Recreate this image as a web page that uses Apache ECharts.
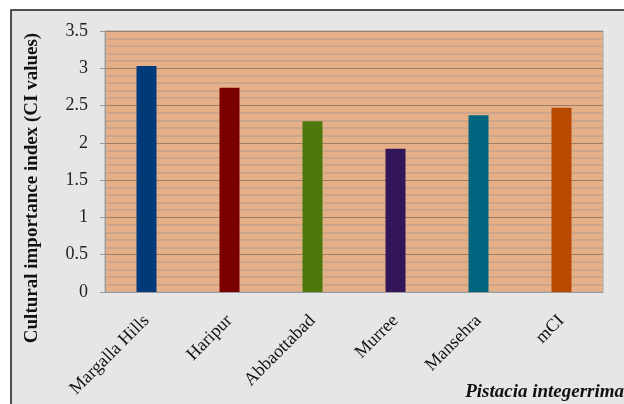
<!DOCTYPE html>
<html>
<head>
<meta charset="utf-8">
<script src="https://cdn.jsdelivr.net/npm/echarts@6/dist/echarts.min.js"></script>
<style>
  html, body { margin: 0; padding: 0; background: #ffffff; }
  #chart { width: 624px; height: 404px; }
</style>
</head>
<body>
<div id="chart"></div>
<script>
// Cultural importance index of Pistacia integerrima by locality
const categories = ['Margalla Hills', 'Haripur', 'Abbaottabad', 'Murree', 'Mansehra', 'mCI'];
const ciValues = [3.03, 2.74, 2.29, 1.92, 2.37, 2.47];
const barColors = ['#003a78', '#7a0000', '#4d780a', '#33165a', '#006680', '#b84a00'];
const yTicks = { min: 0, max: 3.5, step: 0.5 };

const serif = '"Liberation Serif", "DejaVu Serif", serif';
const chart = echarts.init(document.getElementById('chart'));

chart.setOption({
  backgroundColor: '#ffffff',
  animation: false,
  graphic: [
    {
      type: 'rect', z: -10,
      shape: { x: 11, y: 10, width: 700, height: 500 },
      style: { fill: '#e6e6e6', stroke: '#1a1a1a', lineWidth: 1.5 }
    },
    {
      // vertical axis title
      type: 'text', x: 32, y: 188, rotation: Math.PI / 2,
      style: {
        text: 'Cultural importance index (CI values)',
        font: 'bold 19px ' + serif, fill: '#111',
        align: 'center', verticalAlign: 'middle'
      }
    },
    {
      type: 'text', x: 624, y: 392,
      style: {
        text: 'Pistacia integerrima', font: 'italic bold 19px ' + serif, fill: '#111',
        align: 'right', verticalAlign: 'middle'
      }
    }
  ],
  grid: {
    left: 105, right: 21, top: 31, bottom: 112,
    show: true, backgroundColor: '#e5b088', borderColor: '#a8a8a8', borderWidth: 1
  },
  xAxis: {
    type: 'category',
    data: categories,
    axisLine: { lineStyle: { color: '#9a9a9a' } },
    axisTick: { show: false },
    axisLabel: { rotate: 45, margin: 26, fontFamily: serif, fontSize: 18, color: '#111' }
  },
  yAxis: {
    type: 'value',
    min: yTicks.min, max: yTicks.max, interval: yTicks.step,
    axisLine: { show: true, lineStyle: { color: '#9a9a9a' } },
    axisTick: { show: true, length: 5, lineStyle: { color: '#9a9a9a' } },
    axisLabel: { fontFamily: serif, fontSize: 18, color: '#222', margin: 17 },
    splitLine: { lineStyle: { color: '#9c7d68', width: 1 } },
    minorTick: { show: false, splitNumber: 5 },
    minorSplitLine: { show: true, lineStyle: { color: '#c3a28c', width: 1.5 } }
  },
  series: [{
    type: 'bar',
    barWidth: 20,
    data: ciValues.map((v, i) => ({ value: v, itemStyle: { color: barColors[i] } }))
  }]
});
</script>
</body>
</html>
